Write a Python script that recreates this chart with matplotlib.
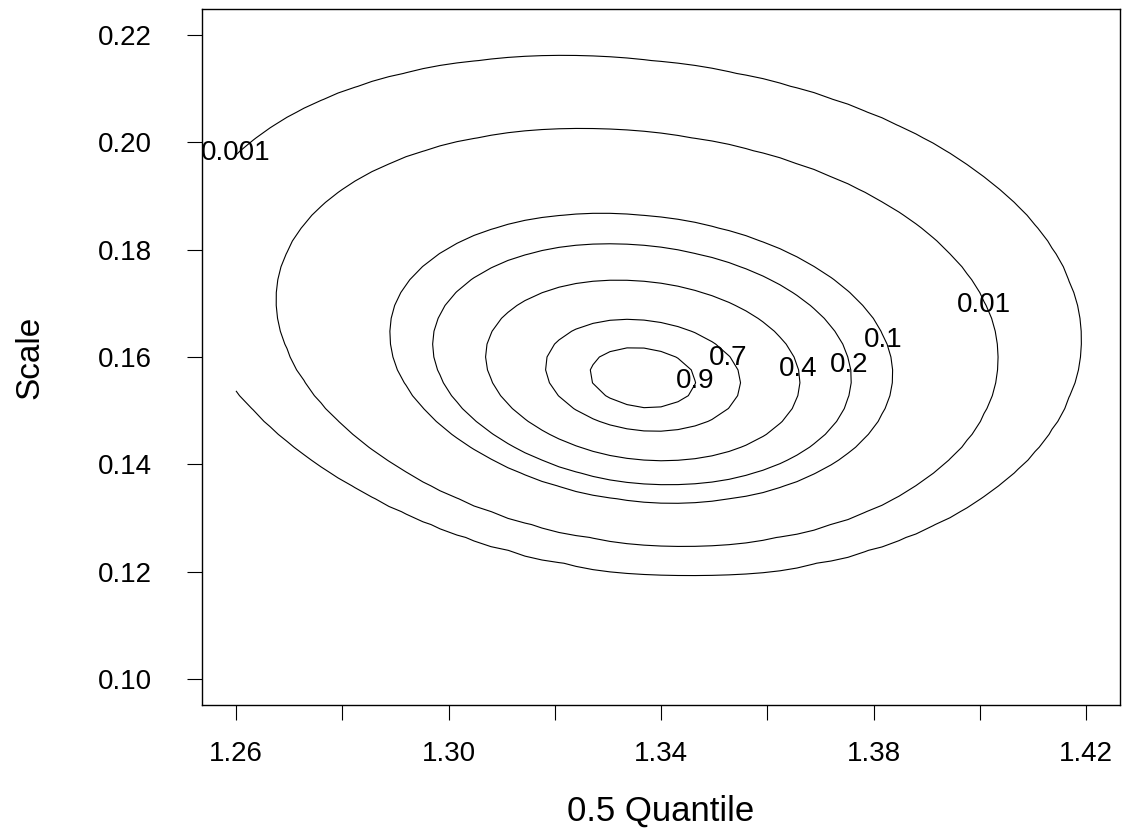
import numpy as np
import matplotlib
matplotlib.use("Agg")
import matplotlib.pyplot as plt

# ---- data: relative likelihood surface (parameters) ----
q_hat = 1.3364        # maximum-likelihood 0.5 quantile
s_hat = 0.156         # maximum-likelihood scale
n_scale = 80.0        # curvature in the scale direction
n_quant_left = 55.0   # curvature in the quantile direction (left of ridge)
n_quant_right = 50.5  # curvature in the quantile direction (right of ridge)
shear = -0.25         # slope of the ridge (quantile vs scale)

q_grid = np.linspace(1.26, 1.42, 51)
s_grid = np.linspace(0.10, 0.22, 51)

levels = [0.001, 0.01, 0.1, 0.2, 0.4, 0.7, 0.9]
level_labels = ["0.001", "0.01", "0.1", "0.2", "0.4", "0.7", "0.9"]
label_x = [1.2600, 1.4008, 1.3818, 1.3755, 1.3658, 1.3527, 1.3464]
label_y = [0.1979, 0.1697, 0.1631, 0.1586, 0.1577, 0.1599, 0.1555]

x_ticks = [1.26, 1.28, 1.30, 1.32, 1.34, 1.36, 1.38, 1.40, 1.42]
x_ticklabels = ["1.26", "", "1.30", "", "1.34", "", "1.38", "", "1.42"]
y_ticks = [0.10, 0.12, 0.14, 0.16, 0.18, 0.20, 0.22]
y_ticklabels = ["0.10", "0.12", "0.14", "0.16", "0.18", "0.20", "0.22"]

# ---- surface ----
Qg, Sg = np.meshgrid(q_grid, s_grid)
t = s_hat / Sg
dev = Qg - q_hat - shear * (Sg - s_hat)
n_q = np.where(dev > 0, n_quant_right, n_quant_left)
logR = n_scale * (np.log(t) + 0.5 * (1.0 - t ** 2)) - n_q * dev ** 2 / (2.0 * Sg ** 2)
R = np.exp(logR)

plt.rcParams['font.family'] = ['Liberation Sans', 'DejaVu Sans']

W, H = 1127, 833
fig = plt.figure(figsize=(W / 100, H / 100), dpi=100)
ax = fig.add_axes([202 / W, 1 - 705 / H, (1120 - 202) / W, (705 - 9) / H])

ax.contour(Qg, Sg, R, levels=levels, colors='black', linewidths=0.8)
for lx, ly, lt in zip(label_x, label_y, level_labels):
    ax.text(lx, ly, lt, ha='center', va='center', fontsize=20)

xr = q_grid[-1] - q_grid[0]
yr = s_grid[-1] - s_grid[0]
ax.set_xlim(q_grid[0] - 0.04 * xr, q_grid[-1] + 0.04 * xr)
ax.set_ylim(s_grid[0] - 0.04 * yr, s_grid[-1] + 0.04 * yr)

ax.set_xticks(x_ticks)
ax.set_xticklabels(x_ticklabels)
ax.set_yticks(y_ticks)
ax.set_yticklabels(y_ticklabels)
ax.tick_params(axis='both', direction='out', length=11, width=0.8, labelsize=20, colors='black')
ax.tick_params(axis='x', pad=15)
ax.tick_params(axis='y', pad=25)
for sp in ax.spines.values():
    sp.set_linewidth(1.0)
    sp.set_color('black')

fig.text((202 + 1120) / 2 / W, 1 - 821 / H, "0.5 Quantile", fontsize=25,
         ha='center', va='baseline')
fig.text(30 / W, 1 - 357 / H, "Scale", fontsize=24, rotation=90,
         ha='center', va='center')

fig.savefig("out.png", dpi=100)
